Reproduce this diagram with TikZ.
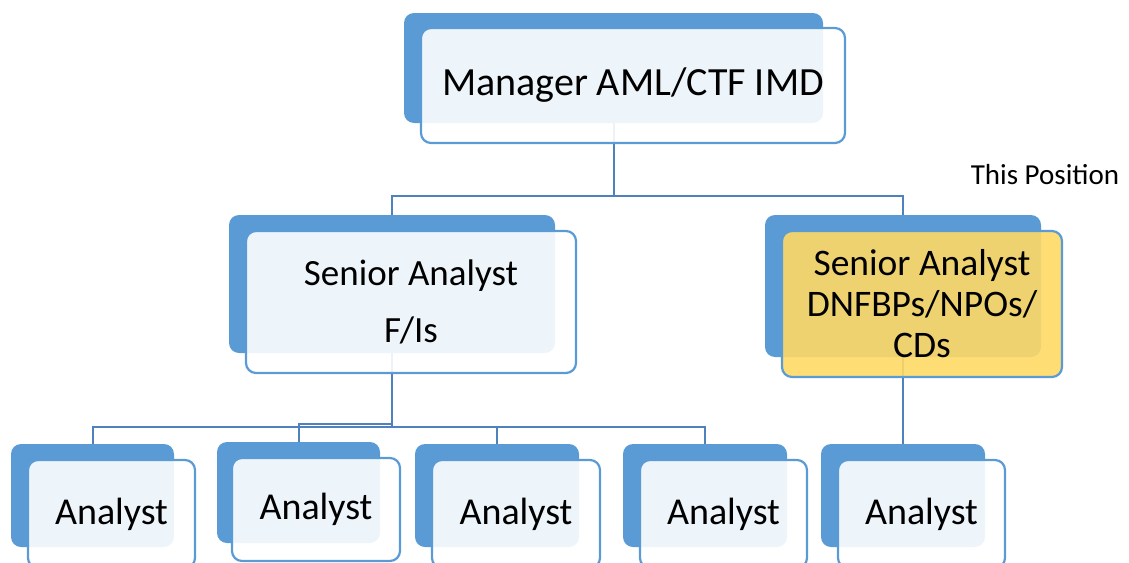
\documentclass[tikz,border=0pt]{standalone}
\usepackage{fontspec}
\setmainfont{Carlito}
\pgfdeclarelayer{bg}
\pgfsetlayers{bg,main}
\definecolor{boxblue}{HTML}{5B9BD5}
\definecolor{linkblue}{HTML}{4F81BD}
\definecolor{hilite}{HTML}{FFD966}
\begin{document}
\begin{tikzpicture}[x=1pt,y=-1pt,
  backbox/.style={rectangle, rounded corners=10pt, fill=boxblue, draw=none, inner sep=0pt},
  frontbox/.style={rectangle, rounded corners=10pt, draw=boxblue, line width=2.2pt,
    fill=white, fill opacity=0.9, text opacity=1, draw opacity=1, inner sep=0pt,
    align=center, font=\fontsize{38}{45}\selectfont},
  conn/.style={draw=linkblue, line width=2pt}]
\useasboundingbox (0,0) rectangle (1129,562);

% back blocks
\node[backbox, minimum width=419pt, minimum height=110pt] (mgrB) at (613.5,68) {};
\node[backbox, minimum width=326pt, minimum height=138pt] (fisB) at (392,284) {};
\node[backbox, minimum width=276pt, minimum height=142pt] (dnfB) at (903,286) {};
\node[backbox, minimum width=163pt, minimum height=103pt] (a1B) at (92.5,495.5) {};
\node[backbox, minimum width=163pt, minimum height=101pt] (a2B) at (298.5,492.5) {};
\node[backbox, minimum width=164pt, minimum height=103pt] (a3B) at (497,495.5) {};
\node[backbox, minimum width=164pt, minimum height=103pt] (a4B) at (705,495.5) {};
\node[backbox, minimum width=164pt, minimum height=103pt] (a5B) at (903,495.5) {};

% front blocks with the titles
\node[frontbox, minimum width=424pt, minimum height=115pt, font=\fontsize{40}{48}\selectfont] (mgrF) at (633,85.5) {Manager AML/CTF IMD};
\node[frontbox, minimum width=330pt, minimum height=142pt, font=\fontsize{37}{57}\selectfont] (fisF) at (411,302) {Senior Analyst\\F/Is};
\node[frontbox, fill=hilite, minimum width=280pt, minimum height=146pt, font=\fontsize{37.5}{41}\selectfont] (dnfF) at (922,304) {Senior Analyst\\DNFBPs/NPOs/\\CDs};
\node[frontbox, minimum width=167pt, minimum height=108pt] (a1F) at (111.5,514) {\raisebox{3pt}{Analyst}};
\node[frontbox, minimum width=168pt, minimum height=103pt] (a2F) at (316,509.5) {Analyst};
\node[frontbox, minimum width=168pt, minimum height=108pt] (a3F) at (516,514) {\raisebox{3pt}{Analyst}};
\node[frontbox, minimum width=167pt, minimum height=108pt] (a4F) at (723.5,514) {\raisebox{3pt}{Analyst}};
\node[frontbox, minimum width=167pt, minimum height=108pt] (a5F) at (921.5,514) {\raisebox{3pt}{Analyst}};

\node[anchor=base, font=\fontsize{29}{34}\selectfont, inner sep=0pt] (pos) at (1045,184) {This Position};

% reporting lines
\begin{pgfonlayer}{bg}
\coordinate (busA) at (0,196);
\coordinate (busB) at (0,427);
\coordinate (busC) at (0,424);
\draw[conn] (mgrB.south) -- (mgrB.south |- busA);
\draw[conn] (fisB.north) -- (fisB.north |- busA) -- (dnfB.north |- busA) -- (dnfB.north);
\draw[conn] (fisB.south) -- (fisB.south |- busB);
\draw[conn] (a1B.north) -- (a1B.north |- busB) -- (a4B.north |- busB) -- (a4B.north);
\draw[conn] (a3B.north) -- (a3B.north |- busB);
\draw[conn] (a2B.north) -- (a2B.north |- busC) -- (fisB.south |- busC);
\draw[conn] (dnfB.south) -- (a5B.north);
\end{pgfonlayer}
\end{tikzpicture}
\end{document}
